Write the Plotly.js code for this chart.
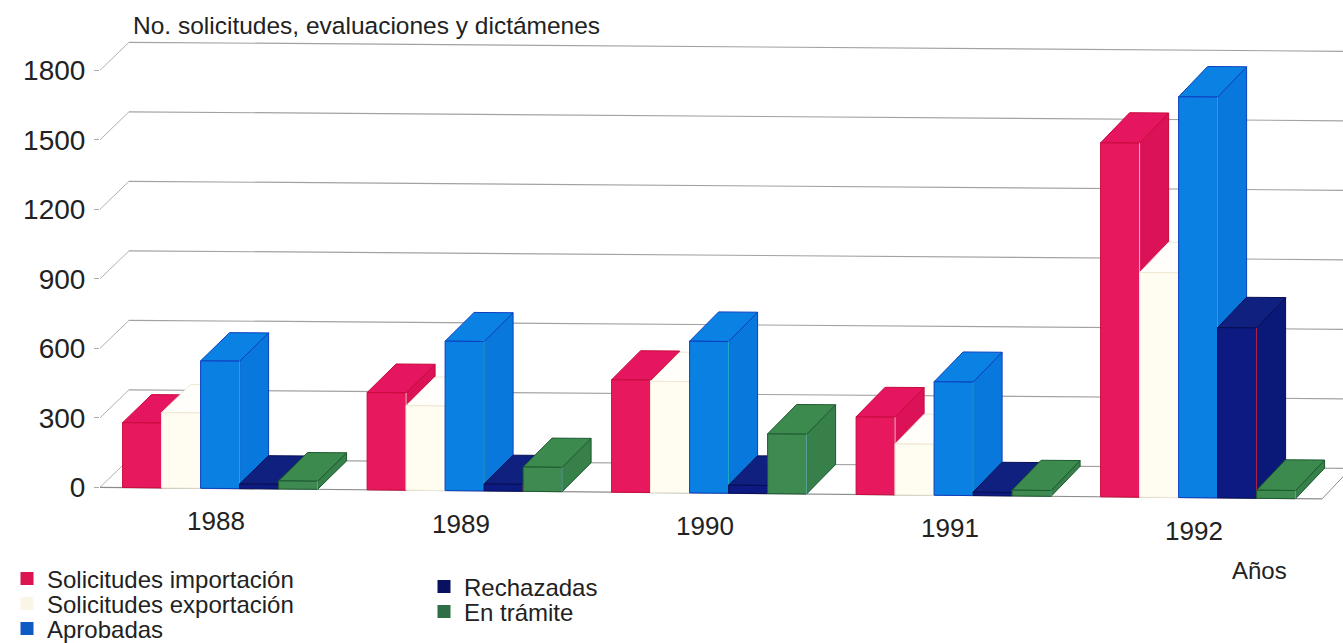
<!DOCTYPE html>
<html><head><meta charset="utf-8">
<script src="https://cdn.plot.ly/plotly-3.0.1.min.js"></script>
<style>html,body{margin:0;padding:0;background:#fff}#c{width:1343px;height:643px}</style>
</head><body><div id="c"></div>
<script>
const years = [1988, 1989, 1990, 1991, 1992];
const seriesNames = ["Solicitudes importación", "Solicitudes exportación", "Aprobadas", "Rechazadas", "En trámite"];
const importacion = [280, 420, 485, 335, 1528];
const exportacion = [325, 365, 480, 220, 970];
const aprobadas   = [550, 645, 655, 490, 1730];
const rechazadas  = [20, 30, 35, 15, 735];
const enTramite   = [35, 105, 258, 25, 35];
const seriesValues = [importacion, exportacion, aprobadas, rechazadas, enTramite];
const yTicks = [0, 300, 600, 900, 1200, 1500, 1800];

const faceFront = ["#e8185f", "#fffdf1", "#0a80e2", "#0c1a82", "#3f8a50"];
const faceTop   = ["#e6155f", "#fffefa", "#0a82e4", "#10207f", "#3c8a4e"];
const faceSide  = ["#dc1258", "#fffefb", "#0878dc", "#0a1878", "#37804a"];
const edge      = ["#c80a3c", "#efe9d4", "#0c3fc0", "#060e55", "#1c5a30"];
const seam      = ["#f7b9cd", "#efe9d4", "#22b4c8", "#c02040", "#5fa8a0"];

const W = 1343, H = 643, L = 100, T = 30, PB = 505;
const pxPerUnit = 417 / 1800, groupPx = 244.5, group0Px = 122.6;
const toYear = px => years[0] + (px - group0Px) / groupPx;
const barW = 39 / groupPx, depthX = 29 / groupPx, depthV = 28 / pxPerUnit;
const x0 = toYear(L), xMax = toYear(W);
const tilt = d => (0.0095 - 0.0021 * d) * groupPx / pxPerUnit;
const proj = (x, v, d) => [x + d * depthX, v + d * depthV - tilt(d) * (x - x0)];
const poly = pts => ({x: pts.map(p => p[0]), y: pts.map(p => p[1])});

const traces = [];
const line = (a, b, color, width) => {
  const p = poly([a, b]);
  traces.push({type: "scatter", mode: "lines", x: p.x, y: p.y, line: {color, width}, hoverinfo: "skip", showlegend: false});
};
// walls and gridlines
yTicks.forEach(t => {
  line(proj(x0, t, 0), proj(x0, t, 1), "#b0b0b0", 1);
  line(proj(x0, t, 1), proj(xMax + 0.2, t, 1), "#a2a2a2", 1.2);
});
const baseEnd = toYear(1322);
line(proj(x0, 0, 0), proj(baseEnd, 0, 0), "#8c8c8c", 1.2);
line(proj(baseEnd, 0, 0), proj(baseEnd, 0, 1), "#8c8c8c", 1);

const face = (pts, fill, color, name) => {
  const p = poly(pts.concat([pts[0]]));
  traces.push({type: "scatter", mode: "lines", x: p.x, y: p.y, fill: "toself", fillcolor: fill,
    line: {color, width: 1}, showlegend: false, hoverinfo: name ? "text" : "skip", text: name || ""});
};
years.forEach((yr, g) => {
  seriesValues.forEach((vals, s) => {
    const a = yr + s * barW, b = a + barW, v = vals[g];
    face([proj(b, 0, 0), proj(b, 0, 1), proj(b, v, 1), proj(b, v, 0)], faceSide[s], edge[s]);
    face([proj(a, v, 0), proj(a, v, 1), proj(b, v, 1), proj(b, v, 0)], faceTop[s], edge[s]);
    face([proj(a, 0, 0), proj(a, v, 0), proj(b, v, 0), proj(b, 0, 0)], faceFront[s], edge[s], seriesNames[s] + " " + yr + ": " + v);
    line(proj(b, 0, 0), proj(b, v, 0), seam[s], 1);
  });
});

// legend: one native legend per entry, so the rows can sit as tightly as the reference
const legendSpots = [[7, 579], [7, 604], [7, 629], [424, 587], [424, 612]];
const swatch = ["#dc1450", "#faf5e6", "#0c5cc4", "#0a1060", "#2f6e46"];
const layout = {
  width: W, height: H, paper_bgcolor: "#fff", plot_bgcolor: "rgba(0,0,0,0)",
  margin: {l: L, r: 0, t: T, b: H - PB, autoexpand: false},
  font: {family: "Liberation Sans, Arial, sans-serif", color: "#222"},
  title: {text: "No. solicitudes, evaluaciones y dictámenes", x: 133 / W, xanchor: "left", y: 1 - 25 / H, yanchor: "middle",
    font: {size: 24.5, color: "#222"}},
  xaxis: {range: [x0, xMax], showgrid: false, zeroline: false, showticklabels: false, ticks: "", showline: false, fixedrange: true},
  yaxis: {range: [(487.3 - PB) / pxPerUnit, (487.3 - T) / pxPerUnit], tickvals: yTicks, ticktext: yTicks.map(String),
    showgrid: false, zeroline: false, showline: false, ticks: "outside", ticklen: 5, tickcolor: "#aaa",
    tickfont: {size: 28, color: "#222"}, ticklabelstandoff: 3, fixedrange: true},
  annotations: years.map(yr => {
    const p = proj(yr + 2.5 * barW - 4 / groupPx, 0, 0);
    return {x: p[0], y: p[1], xref: "x", yref: "y", yshift: -33, text: String(yr), showarrow: false,
      xanchor: "center", yanchor: "middle", font: {size: 26, color: "#222"}};
  }).concat([{x: (1259 - L) / (W - L), y: 1 - (570 - T) / (PB - T), xref: "paper", yref: "paper", text: "Años", showarrow: false,
    xanchor: "center", yanchor: "middle", font: {size: 24, color: "#222"}}]),
  showlegend: true
};
seriesNames.forEach((name, s) => {
  const key = s === 0 ? "legend" : "legend" + (s + 1);
  traces.push({type: "scatter", mode: "markers", x: [null], y: [null], name, legend: key,
    marker: {symbol: "square", size: 13, color: swatch[s]}, hoverinfo: "skip", showlegend: true});
  layout[key] = {x: (legendSpots[s][0] - L) / (W - L), y: 1 - (legendSpots[s][1] - T) / (PB - T), xanchor: "left", yanchor: "middle",
    bgcolor: "rgba(0,0,0,0)", borderwidth: 0, font: {size: 24, color: "#222"}};
});
Plotly.newPlot("c", traces, layout, {displayModeBar: false, staticPlot: true});
</script></body></html>
